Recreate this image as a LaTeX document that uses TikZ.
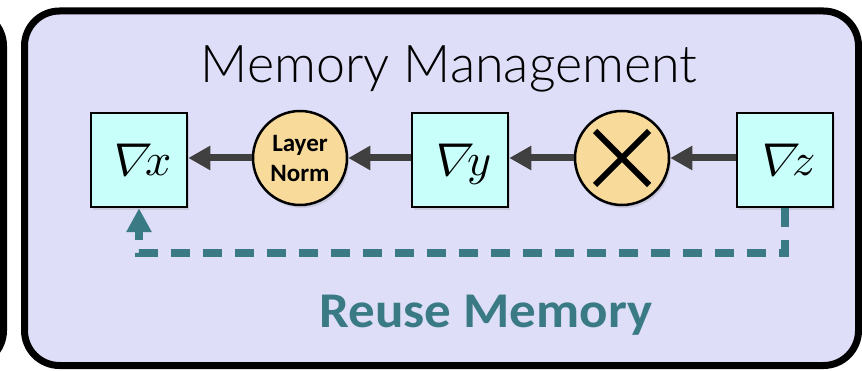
\documentclass[tikz,border=0pt]{standalone}
\usepackage{fontspec}
\usepackage{unicode-math}
\setmathfont{Latin Modern Math}
\setmainfont{Carlito}
\newfontfamily\titlefont{Lato}[UprightFont=* Light]
\newfontfamily\nablafont{Latin Modern Math}[FakeSlant=0.28]
\newcommand{\slnabla}{{\nablafont ∇}}
\usetikzlibrary{arrows.meta,shadows}

\definecolor{panelfill}{RGB}{222,222,248}
\definecolor{gradfill}{RGB}{200,255,250}
\definecolor{opfill}{RGB}{248,218,154}
\definecolor{reusecol}{RGB}{58,122,133}
\definecolor{flowcol}{RGB}{64,64,64}

\tikzset{
  panel/.style={line width=7pt, rounded corners=35pt},
  gradbox/.style={draw, line width=2.5pt, fill=gradfill, minimum width=96pt,
    minimum height=94pt, inner sep=0pt, text height=32pt, text depth=0pt,
    font=\fontsize{46}{46}\selectfont,
    drop shadow={opacity=0.22, shadow xshift=2pt, shadow yshift=-3pt}},
  opnode/.style={circle, draw, line width=2.5pt, fill=opfill, minimum size=94pt,
    inner sep=0pt, align=center,
    drop shadow={opacity=0.22, shadow xshift=2pt, shadow yshift=-3pt}},
  flowarrow/.style={draw=flowcol, line width=7pt,
    -{Triangle[width=23pt,length=22pt]}},
  reusearrow/.style={draw=reusecol, line width=8pt, dash pattern=on 19pt off 13pt,
    -{Triangle[width=24pt,length=24pt]}},
}

\begin{document}
\begin{tikzpicture}[x=1pt,y=-1pt]
\useasboundingbox (0,0) rectangle (862,371);
\fill[white] (0,0) rectangle (862,371);

% neighbouring panel, only its right edge shows
\draw[panel, fill=white] (-200,11) rectangle (3.5,365.5);
% memory management panel
\draw[panel, fill=panelfill] (24.5,11) rectangle (858.5,365.5);

\node[anchor=base, font=\titlefont\fontsize{52}{52}\selectfont] (title) at (449,83) {Memory Management};

% gradient chain
\node[gradbox] (dx) at (139,160) {\slnabla$x$};
\node[opnode, font=\bfseries\fontsize{25}{30}\selectfont] (ln) at (300,158) {Layer\\Norm};
\node[gradbox] (dy) at (460,160) {\slnabla$y$};
\node[opnode] (mul) at (622,158) {};
\draw[line width=6pt] ([shift={(-27,-27)}]mul.center) -- ([shift={(27,27)}]mul.center);
\draw[line width=6pt] ([shift={(-27,27)}]mul.center) -- ([shift={(27,-27)}]mul.center);
\node[gradbox] (dz) at (785,160) {\slnabla$z$};

\draw[flowarrow] (ln.west) -- (ln.west -| dx.east);
\draw[flowarrow] (dy.west |- ln.east) -- (ln.east);
\draw[flowarrow] (mul.west) -- (mul.west -| dy.east);
\draw[flowarrow] (dz.west |- mul.east) -- (mul.east);

% memory reuse path
\draw[reusearrow] (dz.south) -- ++(0,45) -| (dx.south);
\node[anchor=base, text=reusecol, font=\bfseries\fontsize{50}{50}\selectfont] (reuse) at (486,327) {\scalebox{1.06}[1]{Reuse Memory}};
\end{tikzpicture}
\end{document}
